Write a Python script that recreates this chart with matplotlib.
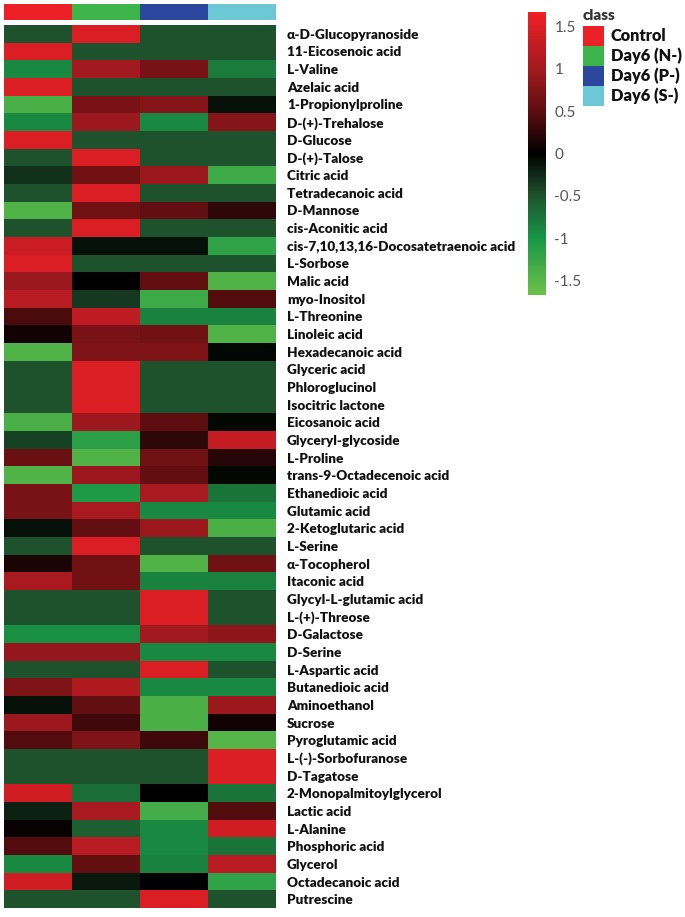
import numpy as np
import matplotlib
matplotlib.use("Agg")
import matplotlib.pyplot as plt
from matplotlib.colors import LinearSegmentedColormap, ListedColormap, Normalize
from matplotlib.patches import Rectangle

metabolites = [
    "α-D-Glucopyranoside", "11-Eicosenoic acid", "L-Valine", "Azelaic acid",
    "1-Propionylproline", "D-(+)-Trehalose", "D-Glucose", "D-(+)-Talose",
    "Citric acid", "Tetradecanoic acid", "D-Mannose", "cis-Aconitic acid",
    "cis-7,10,13,16-Docosatetraenoic acid", "L-Sorbose", "Malic acid",
    "myo-Inositol", "L-Threonine", "Linoleic acid", "Hexadecanoic acid",
    "Glyceric acid", "Phloroglucinol", "Isocitric lactone", "Eicosanoic acid",
    "Glyceryl-glycoside", "L-Proline", "trans-9-Octadecenoic acid",
    "Ethanedioic acid", "Glutamic acid", "2-Ketoglutaric acid", "L-Serine",
    "α-Tocopherol", "Itaconic acid", "Glycyl-L-glutamic acid", "L-(+)-Threose",
    "D-Galactose", "D-Serine", "L-Aspartic acid", "Butanedioic acid",
    "Aminoethanol", "Sucrose", "Pyroglutamic acid", "L-(-)-Sorbofuranose",
    "D-Tagatose", "2-Monopalmitoylglycerol", "Lactic acid", "L-Alanine",
    "Phosphoric acid", "Glycerol", "Octadecanoic acid", "Putrescine",
]

classes = ["Control", "Day6 (N-)", "Day6 (P-)", "Day6 (S-)"]
class_colors = ["#ee2027", "#3db54a", "#2b479d", "#6dc8d6"]

control = [-0.5, 1.5, -0.9, 1.5, -1.4, -0.9, 1.5, -0.5, -0.3, -0.5, -1.45, -0.5,
           1.35, 1.5, 0.95, 1.2, 0.4, 0.1, -1.45, -0.5, -0.5, -0.5, -1.4, -0.4,
           0.6, -1.45, 0.7, 0.7, -0.1, -0.5, 0.15, 1.05, -0.5, -0.5, -0.95, 0.9,
           -0.5, 0.75, -0.1, 0.95, 0.45, -0.5, -0.5, 1.4, -0.2, 0.05, 0.45, -0.9,
           1.4, -0.5]
day6_n = [1.5, -0.5, 1.0, -0.5, 0.7, 0.95, -0.5, 1.5, 0.65, 1.5, 0.65, 1.5,
          -0.1, -0.5, 0.0, -0.35, 1.25, 0.7, 0.75, 1.5, 1.5, 1.5, 0.95, -1.15,
          -1.45, 0.95, -1.05, 1.05, 0.55, 1.5, 0.65, 0.65, -0.5, -0.5, -0.95, 0.9,
          -0.5, 1.1, 0.55, 0.35, 0.75, -0.5, -0.5, -0.7, 1.05, -0.6, 1.2, 0.55,
          -0.15, -0.5]
day6_p = [-0.5, -0.5, 0.7, -0.5, 0.8, -0.9, -0.5, -0.5, 0.95, -0.5, 0.55, -0.5,
          -0.1, -0.5, 0.55, -1.3, -0.85, 0.65, 0.75, -0.5, -0.5, -0.5, 0.5, 0.25,
          0.65, 0.55, 1.05, -0.9, 0.95, -0.5, -1.45, -0.85, 1.5, 1.5, 1.0, -0.9,
          1.5, -0.9, -1.4, -1.4, 0.35, -0.5, -0.5, 0.0, -1.35, -0.9, -0.9, -0.85,
          0.0, 1.5]
day6_s = [-0.5, -0.5, -0.8, -0.5, -0.1, 0.8, -0.5, -0.5, -1.3, -0.5, 0.25, -0.5,
          -1.2, -0.5, -1.45, 0.45, -0.85, -1.45, -0.05, -0.5, -0.5, -0.5, -0.05, 1.3,
          0.2, -0.05, -0.75, -0.9, -1.4, -0.5, 0.65, -0.85, -0.5, -0.5, 0.85, -0.9,
          -0.5, -0.9, 0.95, 0.1, -1.5, 1.5, 1.5, -0.75, 0.45, 1.4, -0.75, 1.2,
          -1.2, -0.5]

cbar_ticks = [-1.5, -1, -0.5, 0, 0.5, 1, 1.5]
cbar_ticklabels = ["-1.5", "-1", "-0.5", "0", "0.5", "1", "1.5"]

vmin, vmax = -1.67, 1.67
anchors = [(-1.67, (108, 192, 74)), (-1.0, (24, 150, 70)), (-0.5, (30, 82, 45)),
           (0.0, (0, 0, 0)), (0.5, (92, 14, 16)), (1.0, (162, 26, 32)),
           (1.67, (238, 32, 38))]
cmap = LinearSegmentedColormap.from_list(
    "gbr", [((v - vmin) / (vmax - vmin), tuple(c / 255 for c in col)) for v, col in anchors])

W, H = 685, 917
fig = plt.figure(figsize=(W / 100, H / 100), dpi=100)

def px_axes(x0, y0, x1, y1):
    return fig.add_axes([x0 / W, 1 - y1 / H, (x1 - x0) / W, (y1 - y0) / H])

data = np.column_stack([control, day6_n, day6_p, day6_s])
norm = Normalize(vmin=vmin, vmax=vmax)

# annotation bar
ax_top = px_axes(4, 4, 276, 20)
ax_top.imshow(np.arange(len(classes))[None, :], cmap=ListedColormap(class_colors),
              aspect="auto", interpolation="nearest")
ax_top.set_axis_off()

# heatmap
ax = px_axes(4, 25, 276, 908)
ax.imshow(data, cmap=cmap, norm=norm, aspect="auto", interpolation="nearest")
ax.set_xticks([])
ax.yaxis.tick_right()
ax.set_yticks(np.arange(len(metabolites)))
ax.set_yticklabels(metabolites, fontsize=9.7, fontweight="heavy",
                   family=["Lato", "DejaVu Sans"], color="#111111")
ax.tick_params(axis="y", length=0, pad=8)
for s in ax.spines.values():
    s.set_visible(False)

# colorbar
cax = px_axes(528, 12, 546, 295)
sm = plt.cm.ScalarMappable(norm=norm, cmap=cmap)
cb = fig.colorbar(sm, cax=cax)
cb.set_ticks(cbar_ticks)
cb.set_ticklabels(cbar_ticklabels)
cb.outline.set_visible(False)
cax.tick_params(length=0, pad=6, labelsize=11, labelcolor="#555555")
for t in cax.get_yticklabels():
    t.set_family(["Lato", "DejaVu Sans"])

# legend
lax = fig.add_axes([0, 0, 1, 1], facecolor="none")
lax.set_xlim(0, W)
lax.set_ylim(H, 0)
lax.set_axis_off()
lax.text(583, 15, "class", fontsize=11, fontweight="heavy", color="#333333",
         family=["Lato", "DejaVu Sans"], va="center", ha="left")
for i, (name, col) in enumerate(zip(classes, class_colors)):
    y0 = 26 + i * 20
    lax.add_patch(Rectangle((583, y0), 21, 20, facecolor=col, edgecolor="none"))
    lax.text(611, y0 + 10, name, fontsize=11.8, fontweight="heavy", color="#111111",
             family=["Lato", "DejaVu Sans"], va="center", ha="left")

fig.savefig("out.png", dpi=100)
